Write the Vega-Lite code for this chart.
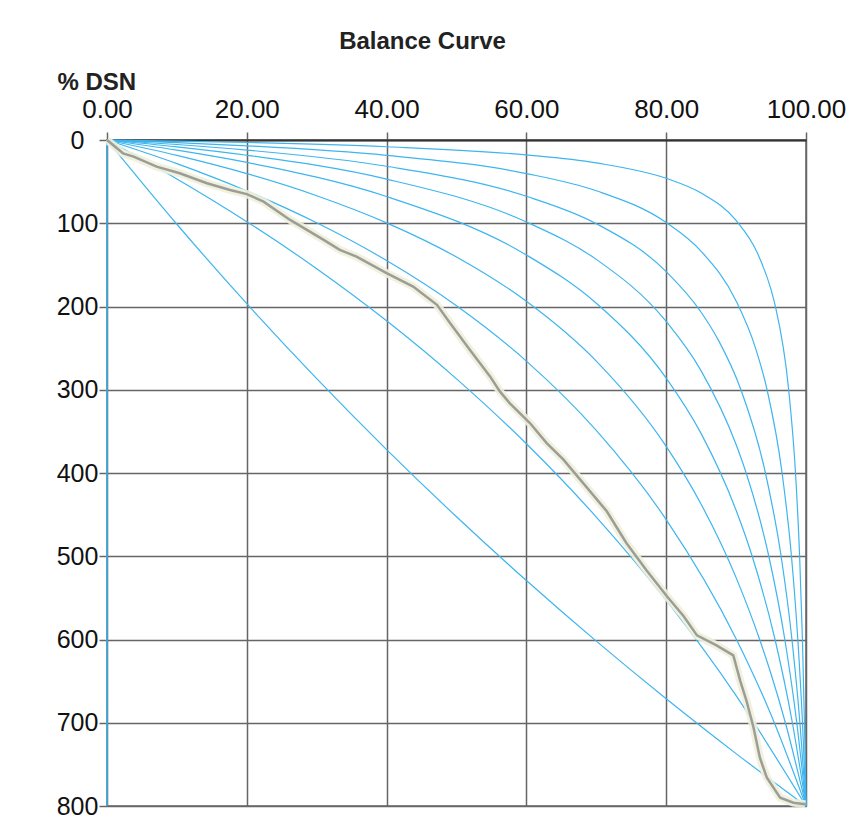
{
  "$schema": "https://vega.github.io/schema/vega-lite/v6.json",
  "width": 699,
  "height": 666,
  "autosize": {"type": "none"},
  "padding": {"left": 107, "top": 140, "right": 49, "bottom": 16},
  "background": "white",
  "title": {"text": "Balance Curve", "anchor": "middle", "frame": "group", "dx": -34, "dy": -12, "fontSize": 24, "font": "Liberation Sans", "fontWeight": "bold", "color": "#222"},
  "datasets": {
    "ref": [
      {"c": "c1", "x": 0, "y": 0}, {"c": "c1", "x": 10, "y": 1.4}, {"c": "c1", "x": 20, "y": 3.0}, {"c": "c1", "x": 40, "y": 8.1}, {"c": "c1", "x": 60, "y": 17.9}, {"c": "c1", "x": 70, "y": 27.5}, {"c": "c1", "x": 80, "y": 46.0}, {"c": "c1", "x": 85, "y": 63.7}, {"c": "c1", "x": 90, "y": 96.6}, {"c": "c1", "x": 93, "y": 134.9}, {"c": "c1", "x": 95, "y": 179.8}, {"c": "c1", "x": 95.62, "y": 200}, {"c": "c1", "x": 97.52, "y": 300}, {"c": "c1", "x": 98.5, "y": 400}, {"c": "c1", "x": 99.09, "y": 500}, {"c": "c1", "x": 99.49, "y": 600}, {"c": "c1", "x": 99.78, "y": 700}, {"c": "c1", "x": 100, "y": 800},
      {"c": "c2", "x": 0, "y": 0}, {"c": "c2", "x": 10, "y": 3.1}, {"c": "c2", "x": 20, "y": 7.0}, {"c": "c2", "x": 40, "y": 18.4}, {"c": "c2", "x": 60, "y": 40.3}, {"c": "c2", "x": 70, "y": 61.0}, {"c": "c2", "x": 80, "y": 99.2}, {"c": "c2", "x": 85, "y": 133.7}, {"c": "c2", "x": 90, "y": 193.3}, {"c": "c2", "x": 92.78, "y": 250}, {"c": "c2", "x": 94.43, "y": 300}, {"c": "c2", "x": 96.58, "y": 400}, {"c": "c2", "x": 97.92, "y": 500}, {"c": "c2", "x": 98.83, "y": 600}, {"c": "c2", "x": 99.5, "y": 700}, {"c": "c2", "x": 100, "y": 800},
      {"c": "c3", "x": 0, "y": 0}, {"c": "c3", "x": 10, "y": 5.4}, {"c": "c3", "x": 20, "y": 12.1}, {"c": "c3", "x": 40, "y": 31.5}, {"c": "c3", "x": 60, "y": 67.6}, {"c": "c3", "x": 70, "y": 100.5}, {"c": "c3", "x": 80, "y": 158.1}, {"c": "c3", "x": 85, "y": 206.9}, {"c": "c3", "x": 87.5, "y": 241}, {"c": "c3", "x": 90.69, "y": 300}, {"c": "c3", "x": 94.2, "y": 400}, {"c": "c3", "x": 96.44, "y": 500}, {"c": "c3", "x": 97.99, "y": 600}, {"c": "c3", "x": 99.13, "y": 700}, {"c": "c3", "x": 100, "y": 800},
      {"c": "c4", "x": 0, "y": 0}, {"c": "c4", "x": 10, "y": 8.2}, {"c": "c4", "x": 20, "y": 18.3}, {"c": "c4", "x": 40, "y": 47.0}, {"c": "c4", "x": 60, "y": 98.5}, {"c": "c4", "x": 70, "y": 143.4}, {"c": "c4", "x": 80, "y": 218.0}, {"c": "c4", "x": 85, "y": 277.3}, {"c": "c4", "x": 90, "y": 365.8}, {"c": "c4", "x": 91.44, "y": 400}, {"c": "c4", "x": 94.68, "y": 500}, {"c": "c4", "x": 96.97, "y": 600}, {"c": "c4", "x": 98.68, "y": 700}, {"c": "c4", "x": 100, "y": 800},
      {"c": "c5", "x": 0, "y": 0}, {"c": "c5", "x": 10, "y": 12.2}, {"c": "c5", "x": 20, "y": 26.9}, {"c": "c5", "x": 40, "y": 67.9}, {"c": "c5", "x": 60, "y": 138.1}, {"c": "c5", "x": 70, "y": 196.1}, {"c": "c5", "x": 80, "y": 286.0}, {"c": "c5", "x": 85, "y": 352.7}, {"c": "c5", "x": 90, "y": 444.8}, {"c": "c5", "x": 92.3, "y": 500}, {"c": "c5", "x": 95.57, "y": 600}, {"c": "c5", "x": 98.05, "y": 700}, {"c": "c5", "x": 100, "y": 800},
      {"c": "c6", "x": 0, "y": 0}, {"c": "c6", "x": 10, "y": 18.5}, {"c": "c6", "x": 20, "y": 40.4}, {"c": "c6", "x": 30, "y": 66.9}, {"c": "c6", "x": 40, "y": 99.5}, {"c": "c6", "x": 50, "y": 140.5}, {"c": "c6", "x": 60, "y": 193.7}, {"c": "c6", "x": 70, "y": 265.6}, {"c": "c6", "x": 80, "y": 368.0}, {"c": "c6", "x": 85, "y": 437.5}, {"c": "c6", "x": 90, "y": 525.7}, {"c": "c6", "x": 93.37, "y": 600}, {"c": "c6", "x": 95, "y": 641.5}, {"c": "c6", "x": 97.05, "y": 700}, {"c": "c6", "x": 100, "y": 800},
      {"c": "c7", "x": 0, "y": 0}, {"c": "c7", "x": 10, "y": 28.4}, {"c": "c7", "x": 20, "y": 61.2}, {"c": "c7", "x": 30, "y": 99.5}, {"c": "c7", "x": 40, "y": 144.8}, {"c": "c7", "x": 50, "y": 199.1}, {"c": "c7", "x": 60, "y": 265.6}, {"c": "c7", "x": 70, "y": 348.9}, {"c": "c7", "x": 80, "y": 456.0}, {"c": "c7", "x": 90, "y": 599.1}, {"c": "c7", "x": 95, "y": 690.4}, {"c": "c7", "x": 100, "y": 800},
      {"c": "c8", "x": 0, "y": 0}, {"c": "c8", "x": 10, "y": 46.8}, {"c": "c8", "x": 20, "y": 98.1}, {"c": "c8", "x": 30, "y": 154.6}, {"c": "c8", "x": 40, "y": 217.2}, {"c": "c8", "x": 50, "y": 286.9}, {"c": "c8", "x": 60, "y": 364.9}, {"c": "c8", "x": 70, "y": 452.9}, {"c": "c8", "x": 80, "y": 552.8}, {"c": "c8", "x": 90, "y": 667.4}, {"c": "c8", "x": 100, "y": 800},
      {"c": "c9", "x": 0, "y": 0}, {"c": "c9", "x": 10, "y": 101.2}, {"c": "c9", "x": 20, "y": 196.6}, {"c": "c9", "x": 30, "y": 286.7}, {"c": "c9", "x": 40, "y": 371.9}, {"c": "c9", "x": 50, "y": 452.6}, {"c": "c9", "x": 60, "y": 529.2}, {"c": "c9", "x": 70, "y": 602.0}, {"c": "c9", "x": 80, "y": 671.2}, {"c": "c9", "x": 90, "y": 737.1}, {"c": "c9", "x": 100, "y": 800}
    ],
    "edge": [{"x": 0, "y": 0, "y2": 800}],
    "dsn": [
      {"x": 0, "y": 0}, {"x": 2.3, "y": 16}, {"x": 3.8, "y": 20}, {"x": 7.1, "y": 32}, {"x": 10.4, "y": 40}, {"x": 14.3, "y": 52}, {"x": 17.6, "y": 60}, {"x": 20, "y": 65}, {"x": 22.4, "y": 74}, {"x": 26.2, "y": 96}, {"x": 31, "y": 120}, {"x": 33.3, "y": 132}, {"x": 35.7, "y": 140}, {"x": 40, "y": 160}, {"x": 43.8, "y": 176}, {"x": 47.2, "y": 198}, {"x": 49.1, "y": 220}, {"x": 51.9, "y": 252}, {"x": 54.8, "y": 284}, {"x": 56.2, "y": 302}, {"x": 57.6, "y": 316}, {"x": 60.5, "y": 340}, {"x": 62.9, "y": 364}, {"x": 65.3, "y": 384}, {"x": 67.7, "y": 408}, {"x": 71.5, "y": 446}, {"x": 74.3, "y": 484}, {"x": 77.2, "y": 517}, {"x": 80.1, "y": 548}, {"x": 82.5, "y": 572}, {"x": 84.4, "y": 595}, {"x": 87.2, "y": 607}, {"x": 89.6, "y": 619}, {"x": 90.6, "y": 650}, {"x": 91.5, "y": 674}, {"x": 92.5, "y": 706}, {"x": 93.4, "y": 742}, {"x": 94.4, "y": 766}, {"x": 96.3, "y": 790}, {"x": 98.2, "y": 796}, {"x": 99.9, "y": 798}
    ]
  },
  "layer": [
    {
      "data": {"name": "ref"},
      "mark": {"type": "line", "interpolate": "monotone", "color": "#3db5ef", "strokeWidth": 1.2},
      "encoding": {
        "x": {"field": "x", "type": "quantitative", "scale": {"domain": [0, 100], "nice": false, "zero": false},
          "axis": {"orient": "top", "values": [0, 20, 40, 60, 80, 100], "format": ".2f", "grid": true, "gridColor": "#666", "gridWidth": 1.5, "tickSize": 8, "tickColor": "#666", "tickWidth": 1.5, "domainColor": "#333", "domainWidth": 2, "labelFont": "Liberation Sans", "labelFontSize": 26, "labelColor": "#111", "labelPadding": 10, "labelFlush": false, "labelOverlap": false, "title": "% DSN", "titleFont": "Liberation Sans", "titleFontSize": 24, "titleFontWeight": "bold", "titleColor": "#222", "titleAnchor": "start", "titleAlign": "left", "titleBaseline": "alphabetic", "titleX": -50, "titleY": -51}},
        "y": {"field": "y", "type": "quantitative", "scale": {"domain": [0, 800], "reverse": true, "nice": false},
          "axis": {"values": [0, 100, 200, 300, 400, 500, 600, 700, 800], "grid": true, "gridColor": "#666", "gridWidth": 1.5, "tickSize": 8, "tickColor": "#666", "tickWidth": 1.5, "domain": false, "labelFont": "Liberation Sans", "labelFontSize": 25, "labelColor": "#111", "labelAlign": "center", "labelBaseline": "middle", "labelPadding": 22, "labelFlush": false, "labelOverlap": false, "title": null}},
        "detail": {"field": "c", "type": "nominal"}
      }
    },
    {
      "data": {"name": "edge"},
      "mark": {"type": "rule", "color": "#3db5ef", "strokeWidth": 1.5},
      "encoding": {
        "x": {"field": "x", "type": "quantitative"},
        "y": {"field": "y", "type": "quantitative"},
        "y2": {"field": "y2"}
      }
    },
    {
      "data": {"name": "dsn"},
      "mark": {"type": "line", "color": "#eef0da", "strokeWidth": 8, "opacity": 0.9},
      "encoding": {
        "x": {"field": "x", "type": "quantitative"},
        "y": {"field": "y", "type": "quantitative"}
      }
    },
    {
      "data": {"name": "dsn"},
      "mark": {"type": "line", "color": "#9d9d97", "strokeWidth": 2.5},
      "encoding": {
        "x": {"field": "x", "type": "quantitative"},
        "y": {"field": "y", "type": "quantitative"}
      }
    }
  ],
  "config": {
    "view": {"stroke": "#666", "strokeWidth": 1.5}
  }
}
